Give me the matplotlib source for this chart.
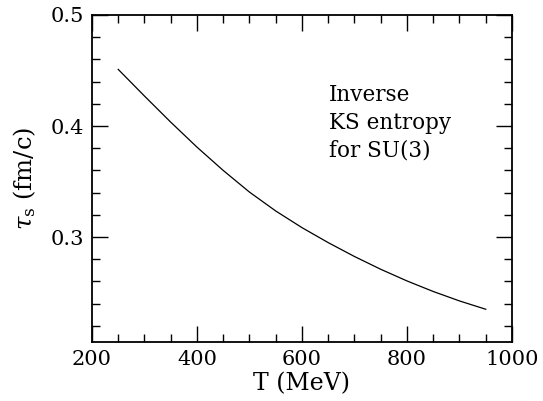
import matplotlib

matplotlib.use("Agg")
import matplotlib.pyplot as plt
from matplotlib.ticker import MultipleLocator

# values
temperature = [250, 300, 350, 400, 450, 500, 550, 600, 650, 700, 750, 800, 850, 900, 950]
tau_s = [0.451, 0.427, 0.4035, 0.381, 0.360, 0.3405, 0.3235, 0.3085, 0.295,
         0.2825, 0.271, 0.2605, 0.251, 0.2425, 0.235]

x_ticks = [200, 400, 600, 800, 1000]
y_ticks = [0.3, 0.4, 0.5]
note = "Inverse\nKS entropy\nfor SU(3)"

plt.rcParams["font.family"] = ["DejaVu Serif"]
plt.rcParams["mathtext.fontset"] = "dejavuserif"

fig = plt.figure(figsize=(5.43, 4.01), dpi=100)
ax = fig.add_axes([0.1694, 0.1471, 0.7735, 0.8155])

ax.plot(temperature, tau_s, color="black", lw=0.9)

ax.set_xlim(200, 1000)
ax.set_ylim(0.2055, 0.5)
ax.set_xticks(x_ticks)
ax.set_yticks(y_ticks)
ax.set_xticklabels([str(v) for v in x_ticks])
ax.set_yticklabels([f"{v:.1f}" for v in y_ticks])
ax.xaxis.set_minor_locator(MultipleLocator(50))
ax.yaxis.set_minor_locator(MultipleLocator(0.02))

ax.tick_params(which="both", direction="in", top=True, right=True, width=1.0, labelsize=15)
ax.tick_params(which="major", length=11.5, pad=6)
ax.tick_params(which="minor", length=6)
for sp in ax.spines.values():
    sp.set_linewidth(1.3)

ax.set_xlabel("T (MeV)", fontsize=17, labelpad=2)
ax.set_ylabel(r"$\tau_{\rm s}$ (fm/c)", fontsize=17.5, labelpad=9)

ax.text(0.565, 0.67, note, transform=ax.transAxes, fontsize=15.5,
        ha="left", va="center", linespacing=1.32)

fig.savefig("out.png", dpi=100)
plt.close(fig)
